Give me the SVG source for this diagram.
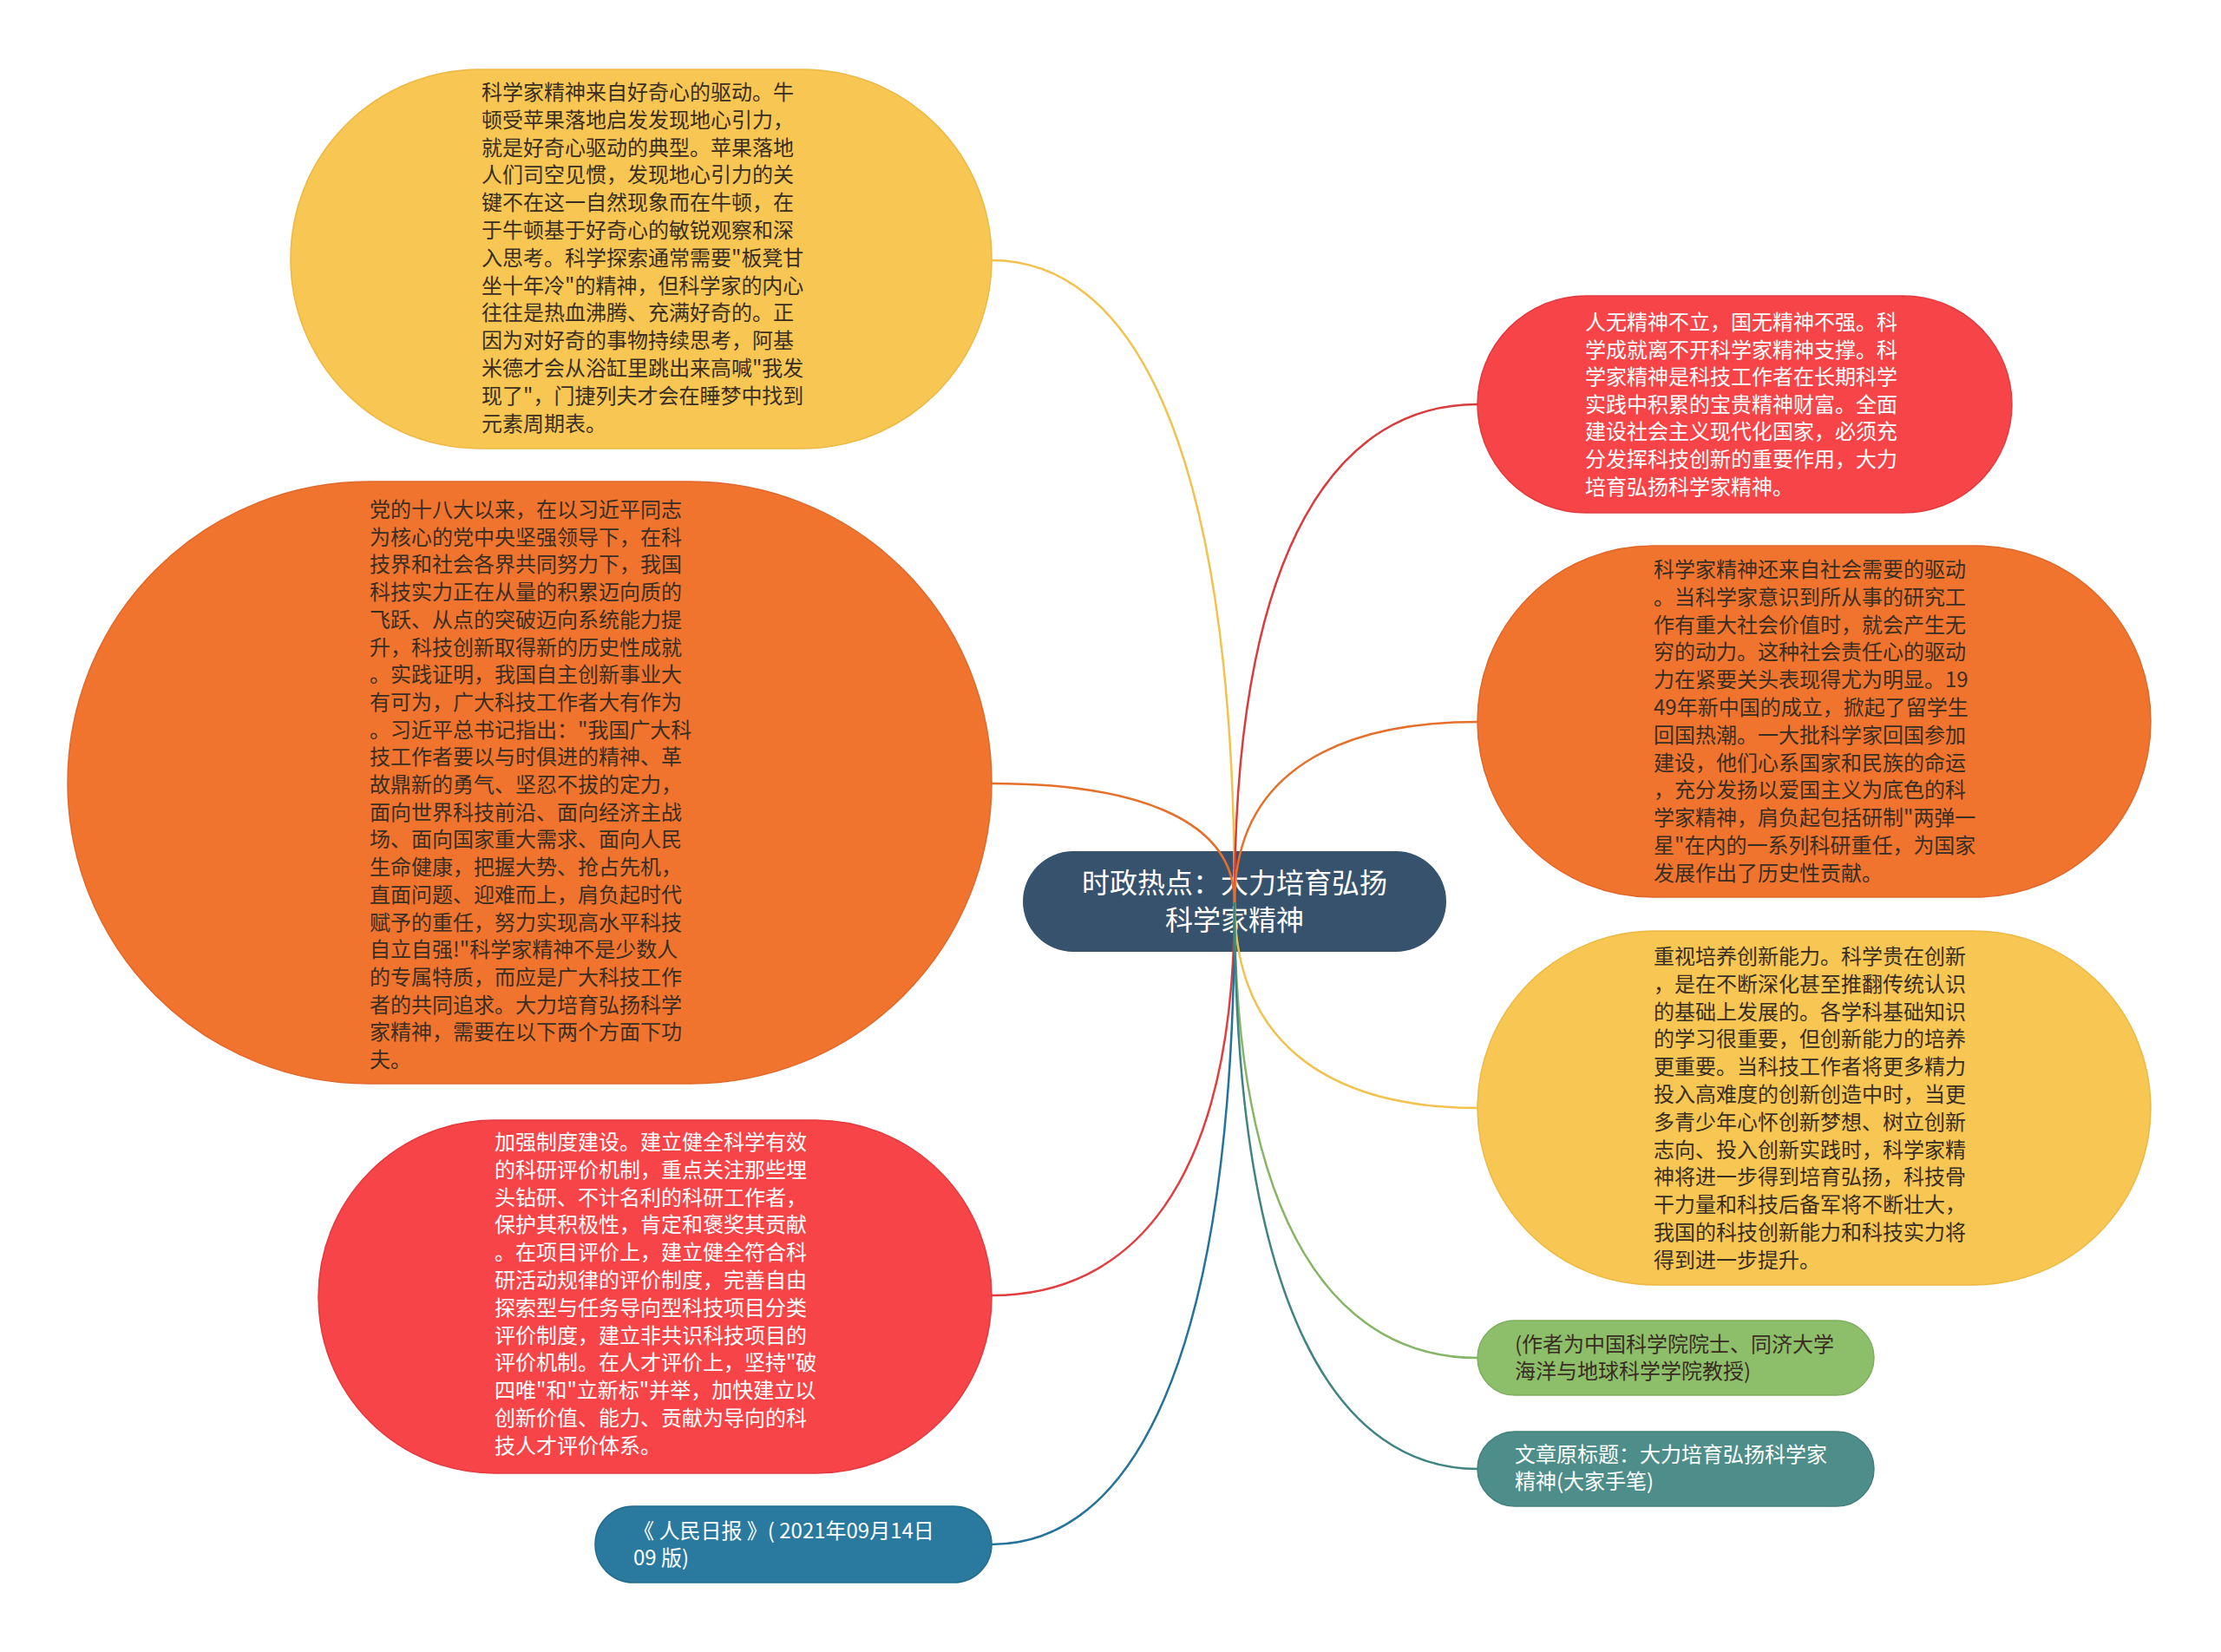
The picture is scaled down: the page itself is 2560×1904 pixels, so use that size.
<svg xmlns="http://www.w3.org/2000/svg" width="2560" height="1904" viewBox="0 0 2560 1904">
<style>
text{font-family:"Noto Sans CJK SC","Liberation Sans",sans-serif;font-size:24px}
.dk{fill:#3a2e22}
.wt{fill:#ffffff}
.ct{font-size:32px;fill:#ffffff;text-anchor:middle}
.c{fill:none;stroke-width:2.5}
</style>
<rect width="2560" height="1904" fill="#ffffff"/>
<g id="n1">
<rect x="335" y="80" width="808" height="437" rx="218" ry="218" fill="#F7C653" stroke="#EDB944" stroke-width="1.5"/>
<text class="dk"><tspan x="555" y="115">科学家精神来自好奇心的驱动。牛</tspan><tspan x="555" y="146.8">顿受苹果落地启发发现地心引力，</tspan><tspan x="555" y="178.6">就是好奇心驱动的典型。苹果落地</tspan><tspan x="555" y="210.4">人们司空见惯，发现地心引力的关</tspan><tspan x="555" y="242.2">键不在这一自然现象而在牛顿，在</tspan><tspan x="555" y="274">于牛顿基于好奇心的敏锐观察和深</tspan><tspan x="555" y="305.8">入思考。科学探索通常需要"板凳甘</tspan><tspan x="555" y="337.6">坐十年冷"的精神，但科学家的内心</tspan><tspan x="555" y="369.4">往往是热血沸腾、充满好奇的。正</tspan><tspan x="555" y="401.2">因为对好奇的事物持续思考，阿基</tspan><tspan x="555" y="433">米德才会从浴缸里跳出来高喊"我发</tspan><tspan x="555" y="464.8">现了"，门捷列夫才会在睡梦中找到</tspan><tspan x="555" y="496.6">元素周期表。</tspan></text>
</g>
<g id="n2">
<rect x="78" y="555" width="1065" height="694" rx="347" ry="347" fill="#F0742E" stroke="#E0682A" stroke-width="1.5"/>
<text class="dk"><tspan x="426" y="596">党的十八大以来，在以习近平同志</tspan><tspan x="426" y="627.7">为核心的党中央坚强领导下，在科</tspan><tspan x="426" y="659.4">技界和社会各界共同努力下，我国</tspan><tspan x="426" y="691.1">科技实力正在从量的积累迈向质的</tspan><tspan x="426" y="722.8">飞跃、从点的突破迈向系统能力提</tspan><tspan x="426" y="754.5">升，科技创新取得新的历史性成就</tspan><tspan x="426" y="786.2">。实践证明，我国自主创新事业大</tspan><tspan x="426" y="817.9">有可为，广大科技工作者大有作为</tspan><tspan x="426" y="849.6">。习近平总书记指出："我国广大科</tspan><tspan x="426" y="881.3">技工作者要以与时俱进的精神、革</tspan><tspan x="426" y="913">故鼎新的勇气、坚忍不拔的定力，</tspan><tspan x="426" y="944.7">面向世界科技前沿、面向经济主战</tspan><tspan x="426" y="976.4">场、面向国家重大需求、面向人民</tspan><tspan x="426" y="1008.1">生命健康，把握大势、抢占先机，</tspan><tspan x="426" y="1039.8">直面问题、迎难而上，肩负起时代</tspan><tspan x="426" y="1071.5">赋予的重任，努力实现高水平科技</tspan><tspan x="426" y="1103.2">自立自强!"科学家精神不是少数人</tspan><tspan x="426" y="1134.9">的专属特质，而应是广大科技工作</tspan><tspan x="426" y="1166.6">者的共同追求。大力培育弘扬科学</tspan><tspan x="426" y="1198.3">家精神，需要在以下两个方面下功</tspan><tspan x="426" y="1230">夫。</tspan></text>
</g>
<g id="n3">
<rect x="367" y="1291" width="776" height="407" rx="203" ry="203" fill="#F74448" stroke="#E23A3E" stroke-width="1.5"/>
<text class="wt"><tspan x="570" y="1325">加强制度建设。建立健全科学有效</tspan><tspan x="570" y="1356.8">的科研评价机制，重点关注那些埋</tspan><tspan x="570" y="1388.6">头钻研、不计名利的科研工作者，</tspan><tspan x="570" y="1420.4">保护其积极性，肯定和褒奖其贡献</tspan><tspan x="570" y="1452.2">。在项目评价上，建立健全符合科</tspan><tspan x="570" y="1484">研活动规律的评价制度，完善自由</tspan><tspan x="570" y="1515.8">探索型与任务导向型科技项目分类</tspan><tspan x="570" y="1547.6">评价制度，建立非共识科技项目的</tspan><tspan x="570" y="1579.4">评价机制。在人才评价上，坚持"破</tspan><tspan x="570" y="1611.2">四唯"和"立新标"并举，加快建立以</tspan><tspan x="570" y="1643">创新价值、能力、贡献为导向的科</tspan><tspan x="570" y="1674.8">技人才评价体系。</tspan></text>
</g>
<g id="n4">
<rect x="686" y="1736" width="457" height="88" rx="44" ry="44" fill="#2A7AA0" stroke="#246C8E" stroke-width="1.5"/>
<text class="wt"><tspan x="730" y="1773">《 人民日报 》( 2021年09月14日</tspan><tspan x="730" y="1804">09 版)</tspan></text>
</g>
<g id="center">
<rect x="1179" y="981" width="488" height="116" rx="58" ry="58" fill="#37526D"/>
<text class="ct"><tspan x="1423" y="1029">时政热点：大力培育弘扬</tspan><tspan x="1423" y="1072">科学家精神</tspan></text>
</g>
<g id="n5">
<rect x="1703" y="341" width="616" height="250" rx="125" ry="125" fill="#F74448" stroke="#E23A3E" stroke-width="1.5"/>
<text class="wt"><tspan x="1827" y="380">人无精神不立，国无精神不强。科</tspan><tspan x="1827" y="411.6">学成就离不开科学家精神支撑。科</tspan><tspan x="1827" y="443.2">学家精神是科技工作者在长期科学</tspan><tspan x="1827" y="474.8">实践中积累的宝贵精神财富。全面</tspan><tspan x="1827" y="506.4">建设社会主义现代化国家，必须充</tspan><tspan x="1827" y="538">分发挥科技创新的重要作用，大力</tspan><tspan x="1827" y="569.6">培育弘扬科学家精神。</tspan></text>
</g>
<g id="n6">
<rect x="1703" y="629" width="776" height="405" rx="202" ry="202" fill="#F0742E" stroke="#E0682A" stroke-width="1.5"/>
<text class="dk"><tspan x="1906" y="665">科学家精神还来自社会需要的驱动</tspan><tspan x="1906" y="696.8">。当科学家意识到所从事的研究工</tspan><tspan x="1906" y="728.6">作有重大社会价值时，就会产生无</tspan><tspan x="1906" y="760.4">穷的动力。这种社会责任心的驱动</tspan><tspan x="1906" y="792.2">力在紧要关头表现得尤为明显。19</tspan><tspan x="1906" y="824">49年新中国的成立，掀起了留学生</tspan><tspan x="1906" y="855.8">回国热潮。一大批科学家回国参加</tspan><tspan x="1906" y="887.6">建设，他们心系国家和民族的命运</tspan><tspan x="1906" y="919.4">，充分发扬以爱国主义为底色的科</tspan><tspan x="1906" y="951.2">学家精神，肩负起包括研制"两弹一</tspan><tspan x="1906" y="983">星"在内的一系列科研重任，为国家</tspan><tspan x="1906" y="1014.8">发展作出了历史性贡献。</tspan></text>
</g>
<g id="n7">
<rect x="1703" y="1073" width="776" height="408" rx="204" ry="204" fill="#F7C653" stroke="#EDB944" stroke-width="1.5"/>
<text class="dk"><tspan x="1906" y="1111">重视培养创新能力。科学贵在创新</tspan><tspan x="1906" y="1142.8">，是在不断深化甚至推翻传统认识</tspan><tspan x="1906" y="1174.6">的基础上发展的。各学科基础知识</tspan><tspan x="1906" y="1206.4">的学习很重要，但创新能力的培养</tspan><tspan x="1906" y="1238.2">更重要。当科技工作者将更多精力</tspan><tspan x="1906" y="1270">投入高难度的创新创造中时，当更</tspan><tspan x="1906" y="1301.8">多青少年心怀创新梦想、树立创新</tspan><tspan x="1906" y="1333.6">志向、投入创新实践时，科学家精</tspan><tspan x="1906" y="1365.4">神将进一步得到培育弘扬，科技骨</tspan><tspan x="1906" y="1397.2">干力量和科技后备军将不断壮大，</tspan><tspan x="1906" y="1429">我国的科技创新能力和科技实力将</tspan><tspan x="1906" y="1460.8">得到进一步提升。</tspan></text>
</g>
<g id="n8">
<rect x="1703" y="1522" width="457" height="86" rx="43" ry="43" fill="#8DBF6B" stroke="#7EAF5E" stroke-width="1.5"/>
<text class="dk"><tspan x="1746" y="1558">(作者为中国科学院院士、同济大学</tspan><tspan x="1746" y="1589">海洋与地球科学学院教授)</tspan></text>
</g>
<g id="n9">
<rect x="1703" y="1650" width="457" height="86" rx="43" ry="43" fill="#4E8E8A" stroke="#427F7B" stroke-width="1.5"/>
<text class="wt"><tspan x="1746" y="1685">文章原标题：大力培育弘扬科学家</tspan><tspan x="1746" y="1716">精神(大家手笔)</tspan></text>
</g>
<g id="connectors">
<path class="c" stroke="#F2C24E" d="M1143,300 C1300,300 1423,500 1423,1040"/>
<path class="c" stroke="#E5702C" d="M1143,903 C1300,903 1423,940 1423,1040"/>
<path class="c" stroke="#E03E40" d="M1143,1493 C1300,1493 1423,1371 1423,1040"/>
<path class="c" stroke="#23739A" d="M1143,1780 C1300,1780 1423,1580 1423,1040"/>
<path class="c" stroke="#D93C3C" d="M1703,466 C1546,466 1423,621 1423,1040"/>
<path class="c" stroke="#E5702C" d="M1703,832 C1546,832 1423,888 1423,1040"/>
<path class="c" stroke="#F2C24E" d="M1703,1277 C1546,1277 1423,1213 1423,1040"/>
<path class="c" stroke="#86B565" d="M1703,1565 C1546,1565 1423,1423 1423,1040"/>
<path class="c" stroke="#3F8481" d="M1703,1693 C1546,1693 1423,1517 1423,1040"/>
</g>
</svg>
